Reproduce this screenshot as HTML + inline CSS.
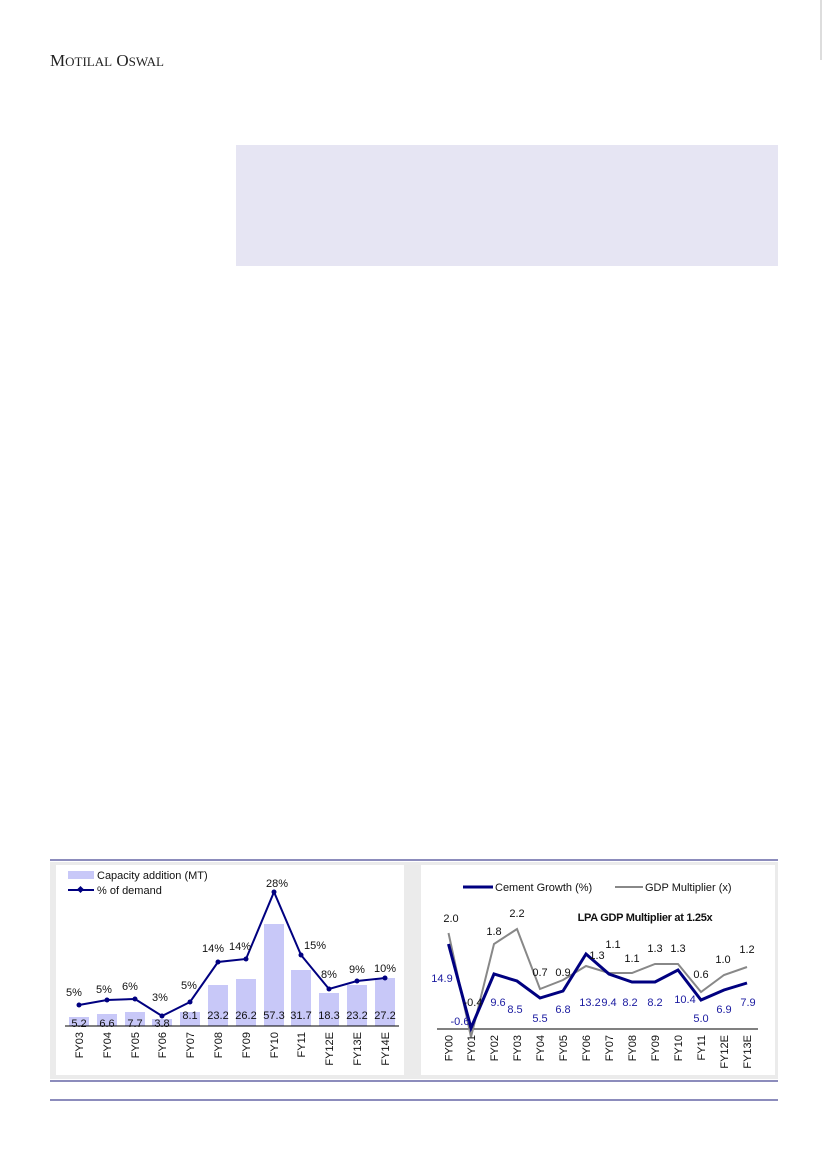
<!DOCTYPE html>
<html><head><meta charset="utf-8"><style>
html,body{margin:0;padding:0;background:#fff;}
svg{display:block;font-family:"Liberation Sans",sans-serif;}
</style></head><body>
<svg width="826" height="1169" viewBox="0 0 826 1169" xmlns="http://www.w3.org/2000/svg">
<rect width="826" height="1169" fill="#fff"/>
<line x1="821" y1="0" x2="821" y2="60" stroke="#bbb" stroke-width="1"/>
<text x="50" y="66" font-family="Liberation Serif,serif" font-size="17" fill="#222">M<tspan font-size="13">OTILAL</tspan> O<tspan font-size="13">SWAL</tspan></text>
<rect x="236" y="145" width="542" height="121" fill="#e6e5f3"/>

<!-- chart frame -->
<line x1="50" y1="860" x2="778" y2="860" stroke="#1a1a7a" stroke-width="1"/>
<rect x="50" y="862" width="728" height="217" fill="#ebebeb"/>
<rect x="56" y="865" width="348" height="210" fill="#fff"/>
<rect x="421" y="865" width="354" height="210" fill="#fff"/>
<line x1="50" y1="1081" x2="778" y2="1081" stroke="#1a1a7a" stroke-width="1"/>
<line x1="50" y1="1100" x2="778" y2="1100" stroke="#1a1a7a" stroke-width="1"/>

<!-- Chart 1 -->
<g font-size="11">
<rect x="68" y="871" width="26" height="8" fill="#c8c8f8"/>
<text x="97" y="879" fill="#111">Capacity addition (MT)</text>
<line x1="68" y1="890" x2="94" y2="890" stroke="#000080" stroke-width="2"/>
<rect x="78" y="887" width="5" height="5" fill="#000080" transform="rotate(45 80.5 889.5)"/>
<text x="97" y="894" fill="#111">% of demand</text>
<g fill="#c8c8f8">
<rect x="69" y="1017" width="20" height="9"/>
<rect x="97" y="1014" width="20" height="12"/>
<rect x="125" y="1012" width="20" height="14"/>
<rect x="152" y="1019" width="20" height="7"/>
<rect x="180" y="1012" width="20" height="14"/>
<rect x="208" y="985" width="20" height="41"/>
<rect x="236" y="979" width="20" height="47"/>
<rect x="264" y="924" width="20" height="102"/>
<rect x="291" y="970" width="20" height="56"/>
<rect x="319" y="993" width="20" height="33"/>
<rect x="347" y="985" width="20" height="41"/>
<rect x="375" y="978" width="20" height="48"/>
</g>
<line x1="65" y1="1026" x2="399" y2="1026" stroke="#000" stroke-width="1"/>
<polyline fill="none" stroke="#000080" stroke-width="2" points="79,1005 107,1000 135,999 162,1016 190,1002 218,962 246,959 274,892 301,955 329,989 357,981 385,978"/>
<g fill="#000080">
<circle cx="79" cy="1005" r="2.5"/><circle cx="107" cy="1000" r="2.5"/><circle cx="135" cy="999" r="2.5"/><circle cx="162" cy="1016" r="2.5"/><circle cx="190" cy="1002" r="2.5"/><circle cx="218" cy="962" r="2.5"/><circle cx="246" cy="959" r="2.5"/><circle cx="274" cy="892" r="2.5"/><circle cx="301" cy="955" r="2.5"/><circle cx="329" cy="989" r="2.5"/><circle cx="357" cy="981" r="2.5"/><circle cx="385" cy="978" r="2.5"/>
</g>
<g text-anchor="middle" fill="#111">
<text x="74" y="996">5%</text><text x="104" y="993">5%</text><text x="130" y="990">6%</text><text x="160" y="1001">3%</text><text x="189" y="989">5%</text><text x="213" y="952">14%</text><text x="240" y="950">14%</text><text x="277" y="887">28%</text><text x="315" y="949">15%</text><text x="329" y="978">8%</text><text x="357" y="973">9%</text><text x="385" y="972">10%</text>
<text x="79" y="1027">5.2</text><text x="107" y="1027">6.6</text><text x="135" y="1027">7.7</text><text x="162" y="1027">3.8</text><text x="190" y="1019">8.1</text><text x="218" y="1019">23.2</text><text x="246" y="1019">26.2</text><text x="274" y="1019">57.3</text><text x="301" y="1019">31.7</text><text x="329" y="1019">18.3</text><text x="357" y="1019">23.2</text><text x="385" y="1019">27.2</text>
</g>
<g fill="#111" text-anchor="end">
<text transform="translate(83,1032) rotate(-90)">FY03</text>
<text transform="translate(111,1032) rotate(-90)">FY04</text>
<text transform="translate(139,1032) rotate(-90)">FY05</text>
<text transform="translate(166,1032) rotate(-90)">FY06</text>
<text transform="translate(194,1032) rotate(-90)">FY07</text>
<text transform="translate(222,1032) rotate(-90)">FY08</text>
<text transform="translate(250,1032) rotate(-90)">FY09</text>
<text transform="translate(278,1032) rotate(-90)">FY10</text>
<text transform="translate(305,1032) rotate(-90)">FY11</text>
<text transform="translate(333,1032) rotate(-90)">FY12E</text>
<text transform="translate(361,1032) rotate(-90)">FY13E</text>
<text transform="translate(389,1032) rotate(-90)">FY14E</text>
</g>
</g>

<!-- Chart 2 -->
<g font-size="11">
<line x1="463" y1="887" x2="493" y2="887" stroke="#000080" stroke-width="3"/>
<text x="495" y="891" fill="#111">Cement Growth (%)</text>
<line x1="615" y1="887" x2="643" y2="887" stroke="#888" stroke-width="2"/>
<text x="645" y="891" fill="#111">GDP Multiplier (x)</text>
<text x="645" y="921" text-anchor="middle" font-weight="bold" font-size="11" fill="#111" letter-spacing="-0.3">LPA GDP Multiplier at 1.25x</text>
<line x1="437" y1="1029" x2="758" y2="1029" stroke="#000" stroke-width="1"/>
<polyline fill="none" stroke="#888" stroke-width="2" points="448.5,933 471,1037 494,944 517,929 540,989 563,980 586,966 609,973 632,973 655,964 678,964 701,992 724,975 747,967"/>
<polyline fill="none" stroke="#000080" stroke-width="3" points="448.5,944 471,1028 494,974 517,981 540,998 563,991 586,954 609,974 632,982 655,982 678,970 701,1000 724,990 747,983"/>
<g text-anchor="middle" fill="#111">
<text x="451" y="922">2.0</text><text x="494" y="935">1.8</text><text x="517" y="917">2.2</text><text x="540" y="976">0.7</text><text x="563" y="976">0.9</text><text x="597" y="959">1.3</text><text x="613" y="948">1.1</text><text x="632" y="962">1.1</text><text x="655" y="952">1.3</text><text x="678" y="952">1.3</text><text x="701" y="978">0.6</text><text x="723" y="963">1.0</text><text x="747" y="953">1.2</text><text x="473" y="1006">-0.4</text>
</g>
<g text-anchor="middle" fill="#1a1aa0">
<text x="442" y="982">14.9</text><text x="460" y="1025">-0.6</text><text x="498" y="1006">9.6</text><text x="515" y="1013">8.5</text><text x="540" y="1022">5.5</text><text x="563" y="1013">6.8</text><text x="590" y="1006">13.2</text><text x="609" y="1006">9.4</text><text x="630" y="1006">8.2</text><text x="655" y="1006">8.2</text><text x="685" y="1003">10.4</text><text x="701" y="1022">5.0</text><text x="724" y="1013">6.9</text><text x="748" y="1006">7.9</text>
</g>
<g fill="#111" text-anchor="end">
<text transform="translate(452.5,1035) rotate(-90)">FY00</text>
<text transform="translate(475,1035) rotate(-90)">FY01</text>
<text transform="translate(498,1035) rotate(-90)">FY02</text>
<text transform="translate(521,1035) rotate(-90)">FY03</text>
<text transform="translate(544,1035) rotate(-90)">FY04</text>
<text transform="translate(567,1035) rotate(-90)">FY05</text>
<text transform="translate(590,1035) rotate(-90)">FY06</text>
<text transform="translate(613,1035) rotate(-90)">FY07</text>
<text transform="translate(636,1035) rotate(-90)">FY08</text>
<text transform="translate(659,1035) rotate(-90)">FY09</text>
<text transform="translate(682,1035) rotate(-90)">FY10</text>
<text transform="translate(705,1035) rotate(-90)">FY11</text>
<text transform="translate(728,1035) rotate(-90)">FY12E</text>
<text transform="translate(751,1035) rotate(-90)">FY13E</text>
</g>
</g>
</svg>
</body></html>
